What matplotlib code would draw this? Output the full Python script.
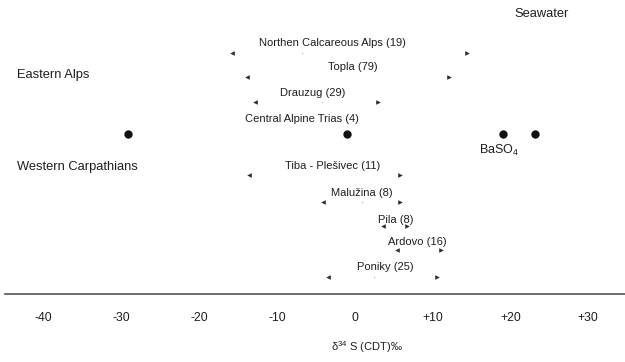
import matplotlib
matplotlib.use("Agg")
import matplotlib.pyplot as plt

plt.rcParams['font.family'] = ['Liberation Sans', 'DejaVu Sans']
plt.rcParams['mathtext.fontset'] = 'custom'
plt.rcParams['mathtext.rm'] = 'Liberation Sans'
plt.rcParams['mathtext.it'] = 'Liberation Sans:italic'

# sulphur isotope ranges (delta34S, permil)
names = ["Northen Calcareous Alps (19)", "Topla (79)", "Drauzug (29)",
         "Tiba - Plešivec (11)", "Malužina (8)", "Pila (8)",
         "Ardovo (16)", "Poniky (25)"]
lo = [-15.8, -13.9, -12.8, -13.6, -4.1, 3.6, 5.4, -3.4]
hi = [14.4, 12.1, 3.0, 5.8, 5.8, 6.7, 11.1, 10.6]
mid = [-6.8, None, -4.2, None, 0.9, None, None, 2.5]

# single values (black dots)
dots = [-29.2, -1.0, 19.0, 23.2]
ticks = [-40, -30, -20, -10, 0, 10, 20, 30]
tick_labels = ["-40", "-30", "-20", "-10", "0", "+10", "+20", "+30"]

# layout (pixel rows from top, label centres)
row_y = [53, 77, 102, 175, 202, 226, 250, 277]
label_dy = [10, 10, 9, 9, 9, 6, 8, 10]
label_x = [-2.9, -0.2, -5.4, -2.9, 0.9, 5.2, 8.0, 3.9]

fig = plt.figure(figsize=(6.25, 3.62), dpi=100)
ax = fig.add_axes([0, 0, 1, 1])
ax.set_xlim(-45.59, 34.72)
ax.set_ylim(362, 0)
ax.axis('off')

txt = '#1e1e1e'
for i in range(len(names)):
    y = row_y[i]
    ax.plot(lo[i], y, marker='<', ms=3.3, color='#2a2a2a', mec='none')
    ax.plot(hi[i], y, marker='>', ms=3.3, color='#2a2a2a', mec='none')
    if mid[i] is not None:
        ax.plot(mid[i], y, marker='o', ms=1, color='#bbbbbb', mec='none')
    ax.text(label_x[i], y - label_dy[i], names[i], fontsize=8,
            ha='center', va='center', color=txt)

ax.plot(dots, [134] * len(dots), 'o', ms=6, color='#111111', mec='none')
ax.text(-6.8, 119, "Central Alpine Trias (4)", fontsize=8,
        ha='center', va='center', color=txt)

ax.text(-43.4, 75, "Eastern Alps", fontsize=9.3,
        ha='left', va='center', color=txt)
ax.text(-43.4, 167, "Western Carpathians", fontsize=9.3,
        ha='left', va='center', color=txt)
ax.text(24.0, 14, "Seawater", fontsize=9.3, ha='center', va='center',
        color=txt)
ax.text(16.0, 150, r"BaSO$_4$", fontsize=9, ha='left', va='center',
        color=txt)

# baseline axis
ax.plot([-45.0, 34.72], [294, 294], color='#555555', lw=1.2)
for t, lab in zip(ticks, tick_labels):
    ax.text(t, 318, lab, fontsize=8.8, ha='center', va='center', color=txt)

ax.text(1.6, 347, "$\\mathregular{δ^{34}}$ S (CDT)‰", fontsize=8,
        ha='center', va='center', color=txt)

fig.savefig("out.png", dpi=100)
